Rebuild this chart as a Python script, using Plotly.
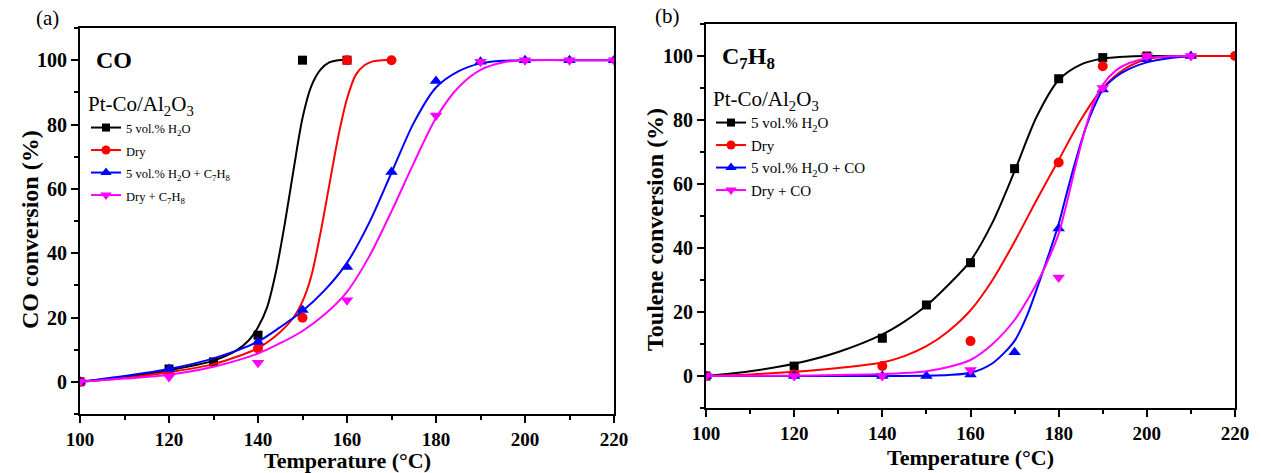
import plotly.graph_objects as go

# ---------------- Data: panel (a) CO conversion ----------------
a_T_h2o = [100, 120, 130, 140, 150, 160]
a_v_h2o = [0, 4, 6.2, 14.5, 100, 100]
a_T_dry = [100, 120, 140, 150, 160, 170]
a_v_dry = [0, 3, 10.4, 19.9, 100, 100]
a_T_h2o_tol = [100, 120, 140, 150, 160, 170, 180, 190, 200, 210, 220]
a_v_h2o_tol = [0, 4, 12.4, 22.3, 35.7, 65.2, 93.5, 99.5, 100, 100, 100]
a_T_dry_tol = [100, 120, 140, 160, 180, 190, 200, 210, 220]
a_v_dry_tol = [0, 1.5, 5.9, 25.4, 82.8, 99.5, 100, 100, 100]

# fitted curves
a_cT_h2o = [100, 110, 120, 130, 135, 138, 140, 142, 144, 146, 148, 150, 152, 154, 156, 158, 160]
a_cv_h2o = [0, 1.5, 3.6, 6.6, 9.6, 13, 17, 23, 34, 49, 66, 82, 92, 97, 99.3, 100, 100]
a_cT_dry = [100, 110, 120, 130, 140, 145, 148, 150, 152, 154, 156, 158, 160, 162, 164, 166, 168, 170]
a_cv_dry = [0, 1.2, 3, 5.5, 10.5, 15.5, 20, 25, 33, 46, 61, 76, 88, 95.5, 98.5, 99.7, 100, 100]
a_cT_h2o_tol = [100, 110, 120, 130, 140, 145, 150, 155, 160, 165, 170, 175, 180, 185, 190, 195, 200, 210, 220]
a_cv_h2o_tol = [0, 1.8, 4, 7.3, 12.5, 17, 22, 28.5, 37, 49.5, 65, 80.5, 91.5, 96.5, 99, 99.8, 100, 100, 100]
a_cT_dry_tol = [100, 110, 120, 130, 140, 145, 150, 155, 160, 165, 170, 175, 180, 185, 190, 195, 200, 210, 220]
a_cv_dry_tol = [0, 1, 2.2, 4.7, 8.8, 12, 15.8, 21, 28, 39, 53, 68, 82, 91.5, 97, 99.3, 100, 100, 100]

# ---------------- Data: panel (b) toluene conversion ----------------
b_T_h2o = [100, 120, 140, 150, 160, 170, 180, 190, 200]
b_v_h2o = [0, 3.1, 11.8, 22.2, 35.4, 64.8, 92.9, 99.5, 100]
b_T_dry = [100, 120, 140, 160, 180, 190, 200, 220]
b_v_dry = [0, 0.5, 3.1, 10.9, 66.7, 96.8, 99.5, 100]
b_T_h2o_co = [100, 120, 140, 150, 160, 170, 180, 190, 200, 210]
b_v_h2o_co = [0, 0, 0, 0, 0.5, 7.4, 46.1, 89.5, 99, 100]
b_T_dry_co = [100, 120, 140, 160, 180, 190, 200, 210]
b_v_dry_co = [0, 0, 0, 1.9, 30.8, 90, 100, 100]

b_cT_h2o = [100, 110, 120, 130, 140, 145, 150, 155, 160, 165, 170, 175, 180, 185, 190, 195, 200, 210]
b_cv_h2o = [0, 1.5, 3.8, 7.5, 13, 17, 22, 28.5, 36, 48, 64, 81, 92.5, 97.3, 99.2, 99.8, 100, 100]
b_cT_dry = [100, 110, 120, 130, 140, 145, 150, 155, 160, 165, 170, 175, 180, 185, 190, 195, 200, 205, 210, 220]
b_cv_dry = [0, 0.5, 1.3, 2.5, 4.2, 6.2, 9.3, 14, 20.5, 30, 42, 55, 67.5, 80, 90, 96, 99, 99.8, 100, 100]
b_cT_h2o_co = [100, 120, 140, 150, 155, 160, 165, 170, 173, 176, 178, 180, 182, 184, 186, 188, 190, 193, 196, 200, 205, 210]
b_cv_h2o_co = [0, 0, 0, 0.1, 0.3, 1, 4, 11, 19.5, 31, 39, 47.5, 58, 68, 77, 84, 89.5, 93.5, 96, 98, 99.3, 100]
b_cT_dry_co = [100, 120, 140, 150, 155, 160, 165, 170, 173, 176, 178, 180, 182, 184, 186, 188, 190, 193, 196, 200, 205, 210]
b_cv_dry_co = [0, 0.1, 0.6, 1.5, 2.8, 5, 10, 17.5, 24, 31.5, 37.5, 44.5, 55, 66.5, 77, 85.5, 91, 95.5, 97.8, 99.3, 99.9, 100]

x_ticks = [100, 120, 140, 160, 180, 200, 220]
y_ticks = [0, 20, 40, 60, 80, 100]

COLORS = ["#000000", "#ff0000", "#0000ff", "#ff00ff"]
SYMBOLS = ["square", "circle", "triangle-up", "triangle-down"]
SIZES = [9, 10, 11, 11]

a_names = ["5 vol.% H<sub>2</sub>O", "Dry", "5 vol.% H<sub>2</sub>O + C<sub>7</sub>H<sub>8</sub>", "Dry + C<sub>7</sub>H<sub>8</sub>"]
b_names = ["5 vol.% H<sub>2</sub>O", "Dry", "5 vol.% H<sub>2</sub>O + CO", "Dry + CO"]

FONT = "Liberation Serif"

fig = go.Figure()

def add_panel(points, curves, names, xa, ya, legend, label_px):
    for i, ((pt, pv), (ct, cv)) in enumerate(zip(points, curves)):
        fig.add_trace(go.Scatter(x=ct, y=cv, mode="lines", line=dict(color=COLORS[i], width=2, shape="spline", smoothing=0.8),
                                 xaxis=xa, yaxis=ya, showlegend=False, hoverinfo="skip"))
        fig.add_trace(go.Scatter(x=pt, y=pv, mode="markers",
                                 marker=dict(color=COLORS[i], symbol=SYMBOLS[i], size=SIZES[i], line=dict(width=0)),
                                 xaxis=xa, yaxis=ya, showlegend=False))
    for i, n in enumerate(names):
        fig.add_trace(go.Scatter(x=[None], y=[None], mode="lines+markers",
                                 name=f'<span style="font-size:{label_px}px">{n}</span>',
                                 line=dict(color=COLORS[i], width=2),
                                 marker=dict(color=COLORS[i], symbol=SYMBOLS[i], size=SIZES[i] - 1),
                                 xaxis=xa, yaxis=ya, legend=legend))

add_panel([(a_T_h2o, a_v_h2o), (a_T_dry, a_v_dry), (a_T_h2o_tol, a_v_h2o_tol), (a_T_dry_tol, a_v_dry_tol)],
          [(a_cT_h2o, a_cv_h2o), (a_cT_dry, a_cv_dry), (a_cT_h2o_tol, a_cv_h2o_tol), (a_cT_dry_tol, a_cv_dry_tol)],
          a_names, "x", "y", "legend", 12.5)
add_panel([(b_T_h2o, b_v_h2o), (b_T_dry, b_v_dry), (b_T_h2o_co, b_v_h2o_co), (b_T_dry_co, b_v_dry_co)],
          [(b_cT_h2o, b_cv_h2o), (b_cT_dry, b_cv_dry), (b_cT_h2o_co, b_cv_h2o_co), (b_cT_dry_co, b_cv_dry_co)],
          b_names, "x2", "y2", "legend2", 15)

W, H = 1261, 473

def xaxis(dom, anchor):
    return dict(domain=dom, anchor=anchor, range=[100, 220], automargin=False,
                tickmode="array", tickvals=x_ticks, ticktext=[f"<b>{t}</b>" for t in x_ticks],
                showline=True, mirror=True, linecolor="black", linewidth=2,
                ticks="outside", ticklen=7, tickwidth=2, tickcolor="black",
                minor=dict(dtick=10, tick0=100, ticks="outside", ticklen=4, tickwidth=2, tickcolor="black"),
                showgrid=False, zeroline=False,
                tickfont=dict(family=FONT, size=19, color="black"))

def yaxis(dom, anchor):
    return dict(domain=dom, anchor=anchor, range=[-10, 110], automargin=False,
                tickmode="array", tickvals=y_ticks, ticktext=[f"<b>{t}</b>" for t in y_ticks],
                showline=True, mirror=True, linecolor="black", linewidth=2,
                ticks="outside", ticklen=7, tickwidth=2, tickcolor="black",
                minor=dict(dtick=10, tick0=0, ticks="outside", ticklen=4, tickwidth=2, tickcolor="black"),
                showgrid=False, zeroline=False,
                tickfont=dict(family=FONT, size=20, color="black"))

def ann(text, x, y, size, angle=0, xanchor="center"):
    return dict(text=text, x=x / W, y=1 - y / H, xref="paper", yref="paper", xanchor=xanchor, yanchor="middle",
                showarrow=False, textangle=angle, font=dict(family=FONT, size=size, color="black"))

fig.update_layout(
    width=W, height=H,
    margin=dict(l=0, r=0, t=0, b=0, autoexpand=False),
    paper_bgcolor="white", plot_bgcolor="white",
    font=dict(family=FONT, color="black"),
    xaxis=xaxis([80 / W, 614 / W], "y"),
    yaxis=yaxis([1 - 414 / H, 1 - 28 / H], "x"),
    xaxis2=xaxis([706 / W, 1235 / W], "y2"),
    yaxis2=yaxis([1 - 408 / H, 1 - 24 / H], "x2"),
    legend=dict(x=86 / W, y=1 - 84 / H, xanchor="left", yanchor="top",
                bgcolor="rgba(0,0,0,0)", font=dict(family=FONT, size=15, color="black"),
                title=dict(text="Pt-Co/Al<sub>2</sub>O<sub>3</sub>", font=dict(family=FONT, size=21, color="black")),
                tracegroupgap=0, itemwidth=30),
    legend2=dict(x=711 / W, y=1 - 79 / H, xanchor="left", yanchor="top",
                 bgcolor="rgba(0,0,0,0)", font=dict(family=FONT, size=15, color="black"),
                 title=dict(text="Pt-Co/Al<sub>2</sub>O<sub>3</sub>", font=dict(family=FONT, size=21, color="black")),
                 tracegroupgap=0, itemwidth=30),
    annotations=[
        ann("<b>CO</b>", 94, 60, 24, xanchor="left"),
        ann("<b>C<sub>7</sub>H<sub>8</sub></b>", 720, 58, 24, xanchor="left"),
        ann("(a)", 47, 18, 21),
        ann("(b)", 667, 16, 21),
        ann("<b>CO conversion (%)</b>", 30, 230, 24, angle=-90),
        ann("<b>Toulene conversion (%)</b>", 655, 230, 24, angle=-90),
        ann("<b>Temperature (°C)</b>", 347, 460, 22),
        ann("<b>Temperature (°C)</b>", 970, 457, 22),
    ],
)

fig.write_html("out.html")
